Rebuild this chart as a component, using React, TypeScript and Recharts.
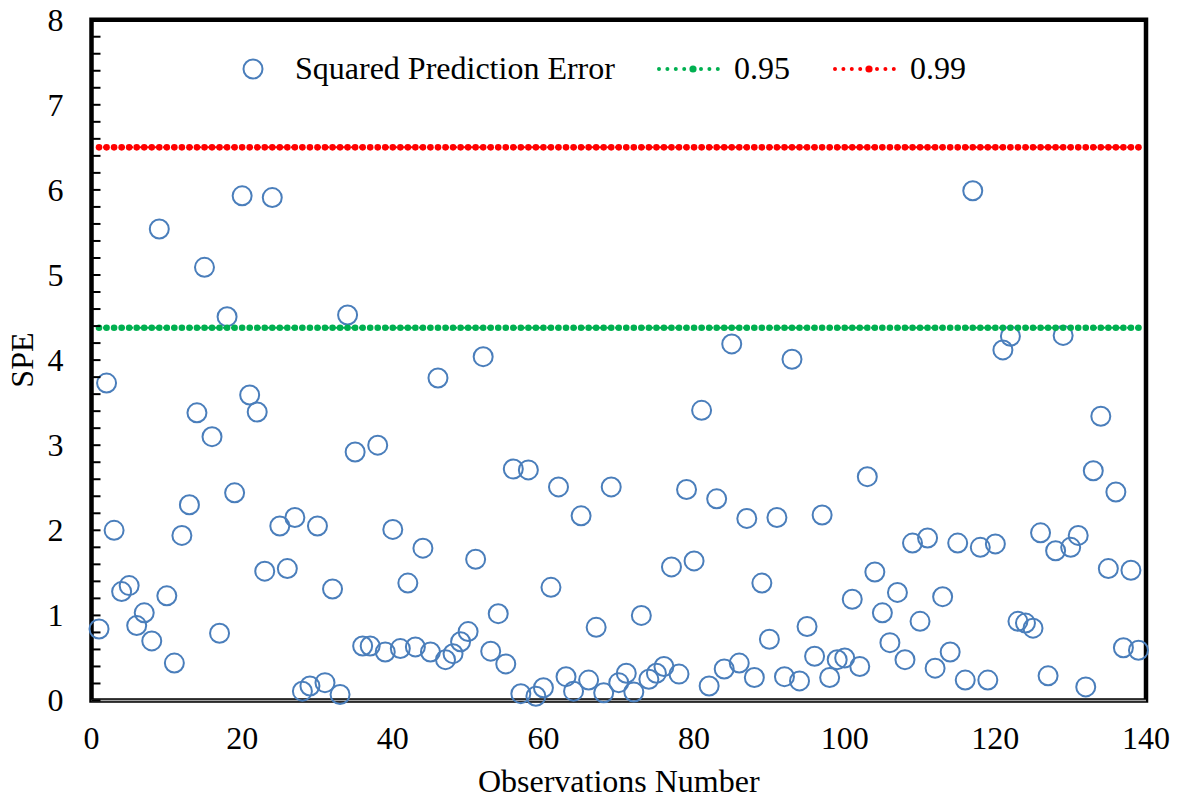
import React from 'react';
import {
  ComposedChart,
  Scatter,
  Line,
  XAxis,
  YAxis,
  Legend,
  ReferenceArea,
  ReferenceLine,
} from 'recharts';

// Squared prediction error for each observation (observation 1 .. 139)
const speValues: number[] = [
  0.84, 3.73, 2.0, 1.28, 1.35, 0.88, 1.03, 0.7, 5.54, 1.23,
  0.44, 1.94, 2.3, 3.38, 5.09, 3.1, 0.79, 4.51, 2.44, 5.93,
  3.59, 3.39, 1.52, 5.91, 2.05, 1.55, 2.15, 0.11, 0.17, 2.05,
  0.21, 1.31, 0.07, 4.53, 2.92, 0.64, 0.64, 3.0, 0.57, 2.01,
  0.61, 1.38, 0.63, 1.79, 0.57, 3.79, 0.48, 0.55, 0.69, 0.81,
  1.66, 4.04, 0.58, 1.02, 0.43, 2.72, 0.08, 2.71, 0.05, 0.15,
  1.33, 2.51, 0.28, 0.11, 2.17, 0.24, 0.86, 0.09, 2.51, 0.21,
  0.32, 0.1, 1.0, 0.25, 0.32, 0.4, 1.57, 0.31, 2.48, 1.64,
  3.41, 0.17, 2.37, 0.37, 4.19, 0.44, 2.14, 0.27, 1.38, 0.72,
  2.15, 0.28, 4.01, 0.23, 0.87, 0.52, 2.18, 0.27, 0.48, 0.5,
  1.19, 0.4, 2.63, 1.51, 1.03, 0.68, 1.27, 0.48, 1.85, 0.93,
  1.91, 0.38, 1.22, 0.57, 1.85, 0.24, 5.99, 1.8, 0.24, 1.84,
  4.12, 4.28, 0.93, 0.91, 0.85, 1.97, 0.29, 1.76, 4.29, 1.8,
  1.94, 0.16, 2.7, 3.34, 1.55, 2.45, 0.62, 1.53, 0.59,
];

// Control limits
const LIMIT_95 = 4.38;
const LIMIT_99 = 6.5;

const X_TICKS: number[] = [0, 20, 40, 60, 80, 100, 120, 140];
// Minor ticks every 0.2, labelled only at whole numbers
const Y_TICKS: number[] = Array.from({ length: 41 }, (_, i) => Math.round(i * 2) / 10);

const SERIES_NAMES = ['Squared Prediction Error', '0.95', '0.99'];

const rows = speValues.map((spe, i) => ({
  obs: i + 1,
  spe,
  l95: LIMIT_95,
  l99: LIMIT_99,
}));

const FONT = "'Liberation Serif', 'Times New Roman', serif";
const BLUE = '#4A7EBB';
const GREEN = '#00B050';
const RED = '#FF0000';
const Y_TICK_MARGIN = 28;

const YTick = (props: any) => {
  const { x, y, payload } = props;
  const axisX = x + Y_TICK_MARGIN;
  const v = payload.value as number;
  const major = Math.abs(v - Math.round(v)) < 1e-6;
  return (
    <g>
      <line x1={axisX} x2={axisX + 9} y1={y} y2={y} stroke="#000" strokeWidth={2} />
      {major && (
        <text x={x} y={y} dy="0.34em" textAnchor="end" fontFamily={FONT} fontSize={32} fill="#000">
          {Math.round(v)}
        </text>
      )}
    </g>
  );
};

const YTitle = (props: any) => {
  const vb = props.viewBox || { x: 0, y: 0, height: 0 };
  const cx = vb.x + 22;
  const cy = vb.y + vb.height / 2;
  return (
    <text
      x={cx}
      y={cy}
      transform={`rotate(-90 ${cx} ${cy})`}
      textAnchor="middle"
      dominantBaseline="central"
      fontFamily={FONT}
      fontSize={32}
      fill="#000"
    >
      SPE
    </text>
  );
};

const XTitle = (props: any) => {
  const vb = props.viewBox || { x: 0, y: 0, width: 0 };
  return (
    <text
      x={vb.x + vb.width / 2}
      y={vb.y + 91}
      textAnchor="middle"
      fontFamily={FONT}
      fontSize={32}
      fill="#000"
    >
      Observations Number
    </text>
  );
};

const Ring = (props: any) => {
  const { cx, cy } = props;
  if (cx == null || cy == null) return <g />;
  return <circle cx={cx} cy={cy} r={9.5} fill="none" stroke={BLUE} strokeWidth={2} />;
};

const LimitSwatch = ({ x, color }: { x: number; color: string }) => (
  <g>
    <line
      x1={x}
      x2={x + 60}
      y1={21}
      y2={21}
      stroke={color}
      strokeWidth={4}
      strokeLinecap="round"
      strokeDasharray="0 8.4"
    />
    <circle cx={x + 34} cy={21} r={3.6} fill={color} />
  </g>
);

const LegendBox = () => (
  <svg width={760} height={45} style={{ display: 'block', overflow: 'visible' }}>
    <circle cx={15} cy={21} r={9.5} fill="none" stroke={BLUE} strokeWidth={2} />
    <text x={57} y={31} fontFamily={FONT} fontSize={32} fill="#000">
      {SERIES_NAMES[0]}
    </text>
    <LimitSwatch x={421} color={GREEN} />
    <text x={496} y={31} fontFamily={FONT} fontSize={32} fill="#000">
      {SERIES_NAMES[1]}
    </text>
    <LimitSwatch x={597} color={RED} />
    <text x={672} y={31} fontFamily={FONT} fontSize={32} fill="#000">
      {SERIES_NAMES[2]}
    </text>
  </svg>
);

export default function App() {
  return (
    <div style={{ margin: -8, width: 1185, height: 801, background: '#fff' }}>
      <ComposedChart
        width={1185}
        height={801}
        data={rows}
        margin={{ top: 19.7, right: 39, bottom: 0, left: 0 }}
      >
        <XAxis
          dataKey="obs"
          type="number"
          domain={[0, 140]}
          ticks={X_TICKS}
          interval={0}
          axisLine={false}
          tickLine={false}
          tickSize={0}
          tickMargin={26}
          height={100.5}
          tick={{ fontSize: 32, fill: '#000', fontFamily: FONT }}
          label={<XTitle />}
        />
        <YAxis
          type="number"
          domain={[0, 8]}
          ticks={Y_TICKS}
          interval={0}
          width={91.5}
          axisLine={false}
          tickLine={false}
          tickSize={0}
          tickMargin={Y_TICK_MARGIN}
          tick={<YTick />}
          label={<YTitle />}
        />
        <ReferenceArea
          x1={0}
          x2={140}
          y1={0}
          y2={8}
          fill="none"
          stroke="#000"
          strokeWidth={4.5}
          ifOverflow="visible"
        />
        <ReferenceLine y={0} stroke="#a6a6a6" strokeWidth={1.5} ifOverflow="visible" />
        <Line
          dataKey="l95"
          name={SERIES_NAMES[1]}
          type="linear"
          stroke={GREEN}
          strokeWidth={2}
          strokeDasharray="2 2"
          dot={{ r: 3.3, fill: GREEN, stroke: GREEN, strokeWidth: 0 }}
          activeDot={false}
          isAnimationActive={false}
        />
        <Line
          dataKey="l99"
          name={SERIES_NAMES[2]}
          type="linear"
          stroke={RED}
          strokeWidth={2}
          strokeDasharray="2 2"
          dot={{ r: 3.3, fill: RED, stroke: RED, strokeWidth: 0 }}
          activeDot={false}
          isAnimationActive={false}
        />
        <Scatter
          dataKey="spe"
          name={SERIES_NAMES[0]}
          shape={<Ring />}
          isAnimationActive={false}
        />
        <Legend
          layout="horizontal"
          verticalAlign="middle"
          align="center"
          wrapperStyle={{ top: 48, left: 238, width: 760, height: 45 }}
          content={<LegendBox />}
        />
      </ComposedChart>
    </div>
  );
}
